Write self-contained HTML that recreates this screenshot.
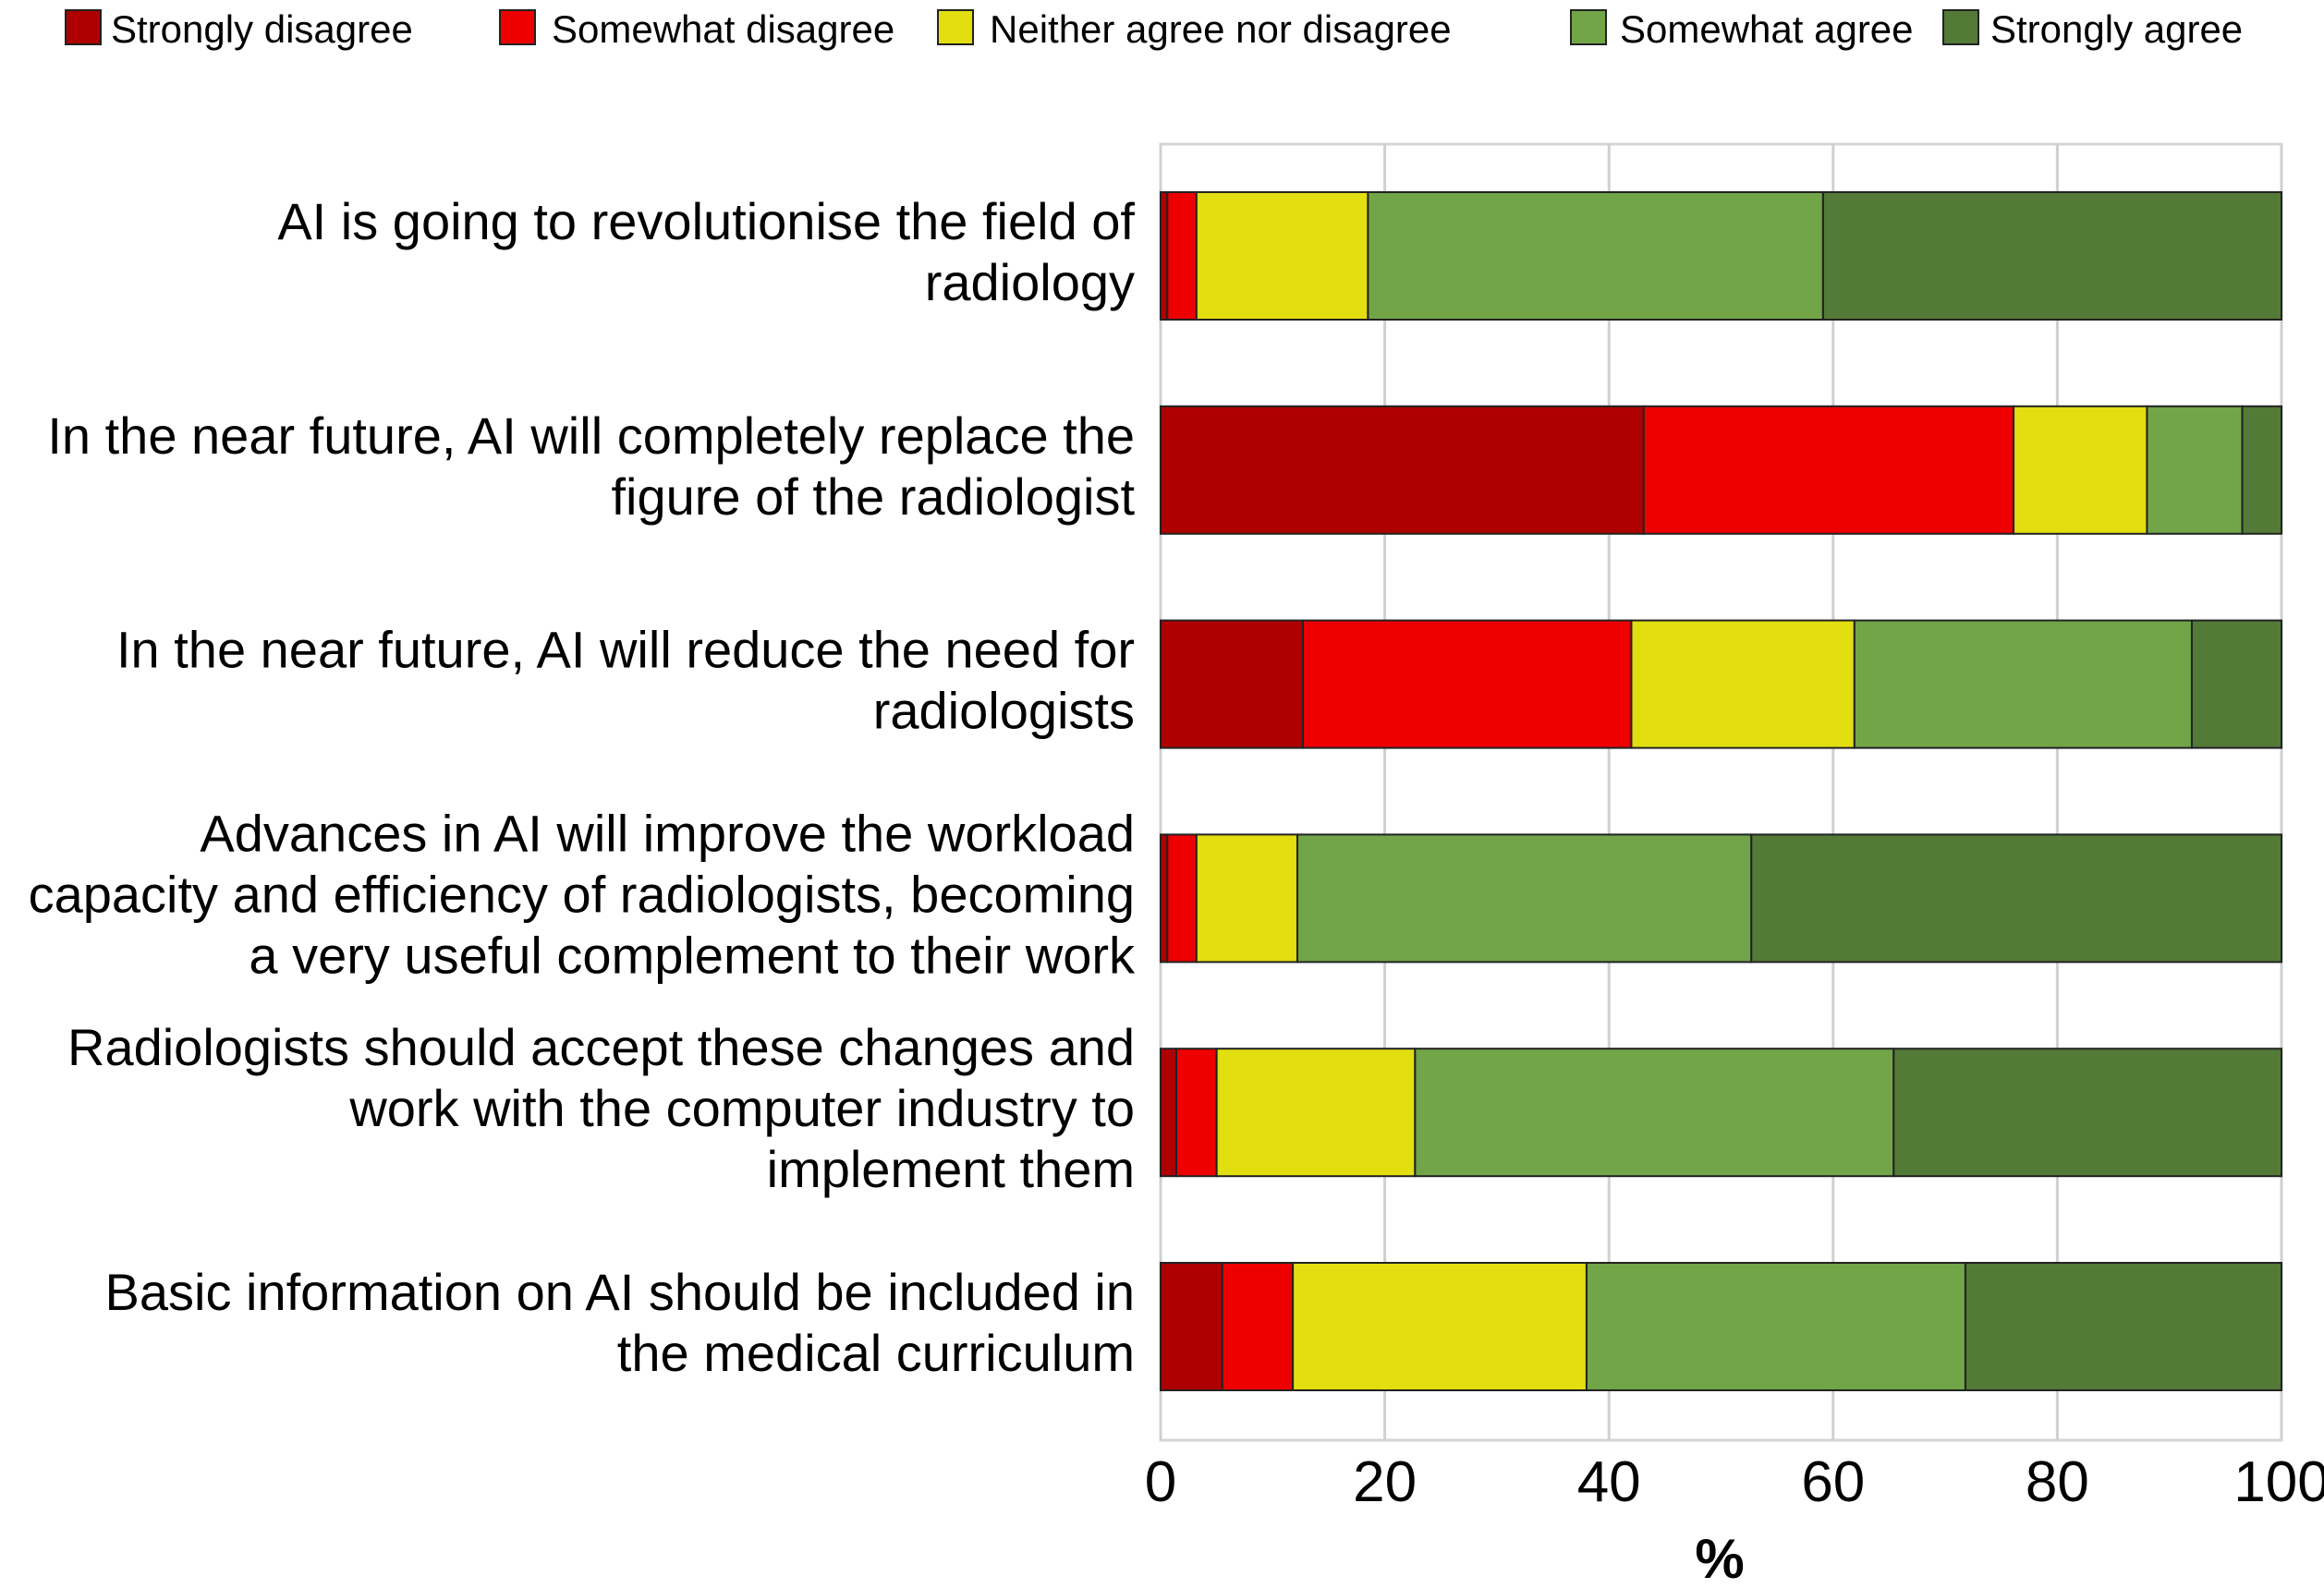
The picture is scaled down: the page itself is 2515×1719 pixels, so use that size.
<!DOCTYPE html>
<html><head><meta charset="utf-8"><style>
html,body{margin:0;padding:0;background:#fff;}
svg{display:block;font-family:"Liberation Sans",Arial,sans-serif;}
</style></head><body>
<svg id="chart" width="2515" height="1719" viewBox="0 0 2515 1719" xmlns="http://www.w3.org/2000/svg"></svg>
<script>
const categories = [
  ["AI is going to revolutionise the field of", "radiology"],
  ["In the near future, AI will completely replace the", "figure of the radiologist"],
  ["In the near future, AI will reduce the need for", "radiologists"],
  ["Advances in AI will improve the workload", "capacity and efficiency of radiologists, becoming", "a very useful complement to their work"],
  ["Radiologists should accept these changes and", "work with the computer industry to", "implement them"],
  ["Basic information on AI should be included in", "the medical curriculum"]
];
const seriesNames = ["Strongly disagree","Somewhat disagree","Neither agree nor disagree","Somewhat agree","Strongly agree"];
const stronglyDisagree = [0.6, 43.1, 12.7, 0.6, 1.4, 5.5];
const somewhatDisagree = [2.6, 33.0, 29.3, 2.6, 3.6, 6.3];
const neither = [15.3, 11.9, 19.9, 9.0, 17.7, 26.2];
const somewhatAgree = [40.6, 8.5, 30.1, 40.5, 42.7, 33.8];
const stronglyAgree = [40.9, 3.5, 8.0, 47.3, 34.6, 28.2];
const ticks = [0, 20, 40, 60, 80, 100];

const colors = ["#AE0000","#EE0000","#E3DE10","#71A548","#537A37"];
const series = [stronglyDisagree, somewhatDisagree, neither, somewhatAgree, stronglyAgree];
const NS = "http://www.w3.org/2000/svg";
const svg = document.getElementById("chart");
const X0 = 1256, X1 = 2469, YT = 156, YB = 1559;
const rowTop = 208, rowStep = 231.8, barH = 138;
function xs(v){ return X0 + (X1 - X0) * v / 100; }
function rowY(i){ return rowTop + i * rowStep; }
function mk(tag, attrs, parent){
  const e = document.createElementNS(NS, tag);
  for (const k in attrs) e.setAttribute(k, attrs[k]);
  (parent || svg).appendChild(e);
  return e;
}
const frame = mk("rect", {x:X0, y:YT, width:X1-X0, height:YB-YT, fill:"none", stroke:"#d4d4d4", "stroke-width":3});


ticks.forEach(t => {
  const g = mk("line", {x1:xs(t), x2:xs(t), y1:YT, y2:YB, stroke:"#d0d0d0", "stroke-width":3});
  
  
  const tx = mk("text", {x:xs(t), y:1625, "font-size":62, "text-anchor":"middle", fill:"#000"});
  tx.textContent = t;
  
  
});
const xt = mk("text", {x:1861, y:1708, "font-size":60, "font-weight":"bold", "text-anchor":"middle"});
xt.textContent = "%";


categories.forEach((lines, i) => {
  let cum = 0;
  const y = rowY(i);
  series.forEach((s, k) => {
    const r = mk("rect", {x:xs(cum), y:y, width:xs(cum + s[i]) - xs(cum), height:barH, fill:colors[k], stroke:"#222", "stroke-width":2});
    
    
    cum += s[i];
  });
  const cy = y + barH / 2;
  const lh = 66;
  const t = mk("text", {"font-size":56, "text-anchor":"end", fill:"#000"});
  
  
  lines.forEach((ln, j) => {
    const ts = mk("tspan", {x:1228, y:cy + (j - (lines.length-1)/2) * lh + 15}, t);
    ts.textContent = ln;
  });
});
const swX = [71, 541, 1015, 1700, 2103];
const txX = [120, 597, 1071, 1753, 2154];
seriesNames.forEach((n, k) => {
  const sw = mk("rect", {x:swX[k], y:11, width:38, height:37, fill:colors[k], stroke:"#222", "stroke-width":2});
  
  
  const tx = mk("text", {x:txX[k], y:46, "font-size":42, fill:"#000"});
  tx.textContent = n;
  
  
});
</script>
</body></html>
